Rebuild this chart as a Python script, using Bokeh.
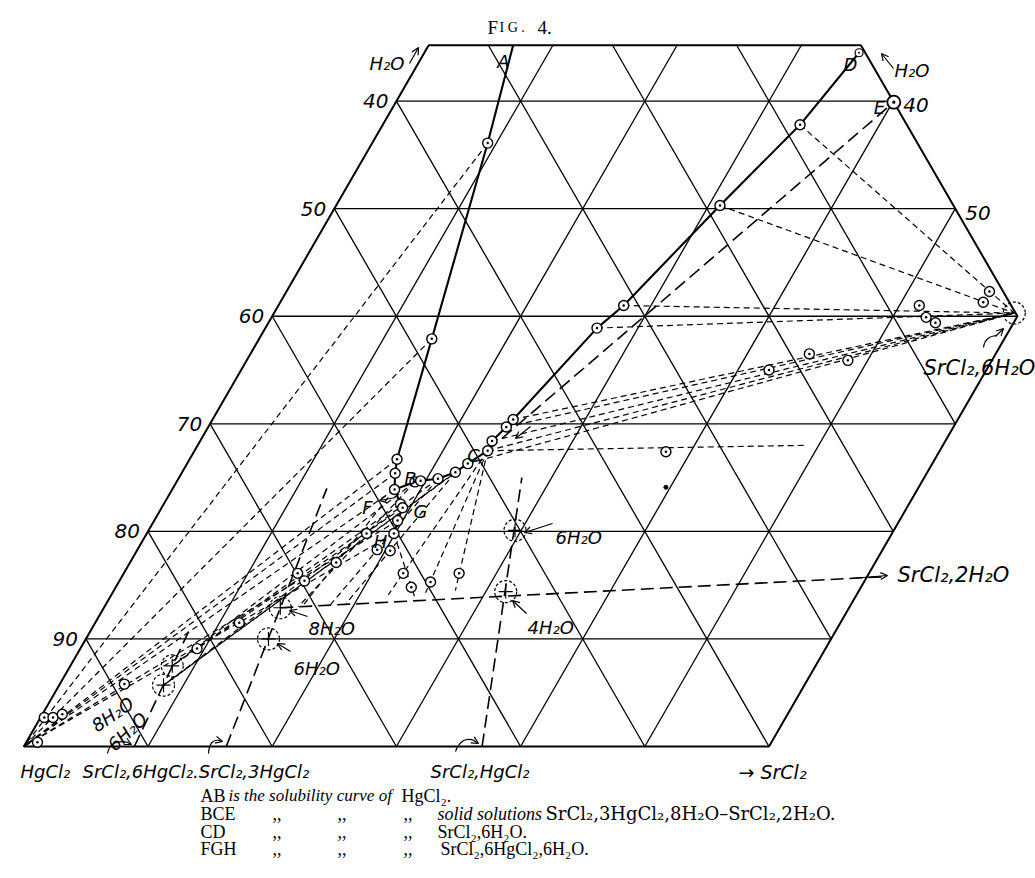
import numpy as np
from bokeh.plotting import figure
from bokeh.models import Range1d, Arrow, OpenHead
from bokeh.core.properties import value
from bokeh.embed import file_html
from bokeh.resources import INLINE

# ---------------- data (weight %: s = SrCl2, w = H2O) ----------------
W_TOP = 65.2          # upper limit of the drawn field (H2O %)
S_MAX = 60.0          # right limit of the drawn field (SrCl2 %)
GRID = [10, 20, 30, 40, 50, 60]
LEFT_TICKS = ["90", "80", "70", "60", "50", "40"]   # at H2O = 10 ... 60
RIGHT_TICKS = ["50", "40"]                            # at H2O = 50, 60

AB_s = [6.8, 9.3, 13.9, 16.7, 17.2, 17.9]
AB_w = [65.2, 56.1, 37.9, 26.7, 25.4, 23.9]
BC_s = [17.9, 19.2, 19.6, 20.9, 22.0, 22.6, 23.6]
BC_w = [23.9, 24.6, 24.7, 24.9, 25.5, 26.3, 27.5]
CD_s = [23.6, 23.5, 24.0, 24.2, 26.7, 27.8, 30.9, 33.6, 35.0]
CD_w = [27.5, 28.4, 29.7, 30.4, 38.9, 41.0, 50.3, 57.8, 64.5]
FGH_s = [17.9, 19.05, 19.4, 19.6, 19.9]
FGH_w = [23.9, 22.55, 22.2, 21.0, 19.8]
CE_s = [23.6, 40.1]
CE_w = [27.5, 59.9]

# residues ("Rest") points
RES_s = [56.6, 56.6, 51.6, 52.7, 53.7, 48.4, 45.0, 42.5, 38.0,
         17.7, 19.3, 20.4, 16.6, 14.0, 14.9, 22.5, 23.8, 25.1, 27.0,
         5.2, 9.4, 11.6, 0.3, 1.0, 1.6, 0.9]
RES_w = [42.3, 41.3, 41.0, 39.9, 39.4, 35.9, 36.5, 35.0, 27.4,
         19.8, 18.3, 18.2, 17.1, 16.1, 15.4, 16.1, 14.8, 15.3, 16.1,
         5.8, 9.1, 11.5, 2.7, 2.7, 3.0, 0.4]

# solid phases
SR6H = (59.6, 40.3)      # SrCl2,6H2O
P8 = (14.2, 12.9)        # SrCl2,3HgCl2,8H2O
P6 = (14.7, 10.0)        # SrCl2,3HgCl2,6H2O
Q8 = (8.2, 7.5)          # SrCl2,6HgCl2,8H2O
Q6 = (8.4, 5.7)          # SrCl2,6HgCl2,6H2O
R6 = (29.5, 20.1)        # SrCl2,HgCl2,6H2O
R4 = (31.6, 14.4)        # SrCl2,HgCl2,4H2O
SS_END = (61.6, 15.8)    # towards SrCl2,2H2O

# tie lines: solution -> solid
TIE_s0 = [9.3, 13.9, 16.7, 17.2, 17.9, 19.6, 19.9,
          19.05, 19.4, 19.2,
          22.6, 22.0, 20.9,
          17.9, 19.2, 20.9, 22.0, 23.6, 23.6, 23.6, 19.9,
          33.6, 30.9, 27.8, 26.7, 24.2, 24.0, 23.5, 23.6, 22.6,
          23.6]
TIE_w0 = [56.1, 37.9, 26.7, 25.4, 23.9, 21.0, 19.8,
          22.55, 22.2, 24.6,
          26.3, 25.5, 24.9,
          23.9, 24.6, 24.9, 25.5, 27.5, 27.5, 27.5, 19.8,
          57.8, 50.3, 41.0, 38.9, 30.4, 29.7, 28.4, 27.5, 26.3,
          27.5]
TIE_s1 = [0, 0, 0, 0, 0, 0, 0,
          8.2, 8.2, 8.2,
          8.4, 8.4, 8.4,
          15.9, 15.6, 18.1, 19.3, 22.3, 25.2, 27.5, 24.6,
          59.6, 59.6, 59.6, 59.6, 59.6, 59.6, 59.6, 59.6, 59.6,
          49.0]
TIE_w1 = [0, 0, 0, 0, 0, 0, 0,
          7.5, 7.5, 7.5,
          5.7, 5.7, 5.7,
          13.0, 13.0, 13.2, 13.3, 14.1, 14.3, 14.5, 13.8,
          40.3, 40.3, 40.3, 40.3, 40.3, 40.3, 40.3, 40.3, 40.3,
          28.0]

# lines from the anhydrous double salts towards H2O (through their hydrates)
HYD_s0 = [36.9, 16.3, 8.9]
HYD_w0 = [0.0, 0.0, 0.0]
HYD_s1 = [27.6, 12.4, 7.9]
HYD_w1 = [25.0, 24.0, 11.0]

# ---------------- geometry helpers ----------------
SQ = np.sqrt(3) / 2


def T(s, w):
    s = np.asarray(s, float)
    w = np.asarray(w, float)
    return s + w / 2, w * SQ


PXU = 12.42           # pixels per % unit
OX, OY = 23.3, 746.0  # page position of the HgCl2 corner
W, H = 1035, 870


def pg(px, py):
    """page pixel -> data coords (for placing annotations)"""
    return (px - OX) / PXU, (OY - py) / PXU


p = figure(width=W, height=H, output_backend="svg", toolbar_location=None,
           x_range=Range1d((0 - OX) / PXU, (W - OX) / PXU),
           y_range=Range1d((OY - H) / PXU, (OY - 0) / PXU),
           x_axis_type=None, y_axis_type=None, min_border=0)
p.grid.visible = False
p.outline_line_color = None
p.background_fill_color = "white"

# ---- grid ----
gx, gy = [], []
for c in GRID:
    x, y = T([0, min(S_MAX, 100 - c)], [c, c])
    gx.append(x); gy.append(y)
for c in GRID[:-1]:
    x, y = T([c, c], [0, min(W_TOP, 100 - c)])
    gx.append(x); gy.append(y)
for c in range(10, 100, 10):
    s0 = max(0.0, c - W_TOP)
    s1 = min(S_MAX, c)
    x, y = T([s0, s1], [c - s0, c - s1])
    gx.append(x); gy.append(y)
p.multi_line(gx, gy, line_color="black", line_width=1.3)

bs = [0, S_MAX, S_MAX, 100 - W_TOP, 0, 0]
bw = [0, 0, 100 - S_MAX, W_TOP, W_TOP, 0]
x, y = T(bs, bw)
p.line(x, y, line_color="black", line_width=2.0)

# ---- dashed tie lines ----
tx, ty = [], []
for a, b, c, d in zip(TIE_s0, TIE_w0, TIE_s1, TIE_w1):
    x, y = T([a, c], [b, d])
    tx.append(x); ty.append(y)
p.multi_line(tx, ty, line_color="black", line_width=1.2, line_dash="6 4")

# long dashed lines
lx, ly = [], []
for a, b, c, d in zip(HYD_s0, HYD_w0, HYD_s1, HYD_w1):
    x, y = T([a, c], [b, d])
    lx.append(x); ly.append(y)
x, y = T(CE_s, CE_w); lx.append(x); ly.append(y)
x, y = T([P8[0], SS_END[0]], [P8[1], SS_END[1]]); lx.append(x); ly.append(y)
p.multi_line(lx, ly, line_color="black", line_width=1.6, line_dash="13 6")

# ---- solubility curves ----
for cs, cw in [(AB_s, AB_w), (BC_s, BC_w), (CD_s, CD_w), (FGH_s, FGH_w)]:
    x, y = T(cs, cw)
    p.line(x, y, line_color="black", line_width=2.1)

# ---- points ----
sol_s = AB_s[1:] + BC_s[1:] + CD_s[1:-1] + FGH_s[1:]
sol_w = AB_w[1:] + BC_w[1:] + CD_w[1:-1] + FGH_w[1:]
x, y = T(sol_s + RES_s, sol_w + RES_w)
p.scatter(x, y, marker="circle_dot", size=10, line_color="black",
          line_width=1.4, fill_color="white")
x, y = T([CE_s[1]], [CE_w[1]])
p.scatter(x, y, marker="circle_dot", size=13, line_color="black",
          line_width=1.8, fill_color="white")
x, y = T([CD_s[-1]], [CD_w[-1]])
p.scatter(x, y, marker="circle_dot", size=8, line_color="black",
          line_width=1.2, fill_color="white")
x, y = T([39.65], [24.1])
p.scatter(x, y, marker="circle", size=4, color="black")

# solid-phase markers (dashed circles)
cs = [SR6H[0], P8[0], P6[0], Q8[0], Q6[0], R6[0], R4[0]]
cw = [SR6H[1], P8[1], P6[1], Q8[1], Q6[1], R6[1], R4[1]]
x, y = T(cs, cw)
p.scatter(x, y, marker="circle", size=22, line_color="black", line_width=1.2,
          line_dash="3 2", fill_color=None)
p.scatter(x[1:], y[1:], marker="cross", size=14, line_color="black", line_width=1.2)

# ---- texts ----
LBL = dict(text_font=value("DejaVu Sans"), text_font_style="italic",
           text_color="black")

# scale numbers
x, y = T([0] * 6, GRID)
p.text(x, y, text=LEFT_TICKS, text_align="right", text_baseline="alphabetic",
       x_offset=-8, text_font_size="20px", **LBL)
x, y = T([50, 40], [50, 60])
p.text(x, y, text=RIGHT_TICKS, text_align="left", text_baseline="alphabetic",
       x_offset=10, y_offset=4, text_font_size="20px", **LBL)


def label(px, py, txt, size="18px", align="left", baseline="alphabetic", angle=0.0):
    x, y = pg(px, py)
    p.text([x], [y], text=[txt], text_align=align, text_baseline=baseline,
           text_font_size=size, angle=angle, **LBL)


label(404, 63, "H\u2082O", align="right")
label(503, 61, "A", align="center")
label(850, 64, "D", align="center")
label(894, 70, "H\u2082O")
label(879, 107, "E", align="center")
label(410, 478, "B", align="center")
label(473, 455, "C", align="center")
label(367, 507, "F", align="center")
label(420, 511, "G", align="center")
label(380, 541, "H", align="center")
label(555, 537, "6H\u2082O")
label(527, 627, "4H\u2082O")
label(897, 574, "SrCl\u2082,2H\u2082O", size="21px")
label(923, 367, "SrCl\u2082,6H\u2082O", size="21px")
label(308, 628, "8H\u2082O")
label(293, 668, "6H\u2082O")
label(93, 727, "8H\u2082O", angle=0.6)
label(110, 747, "6H\u2082O", angle=0.75)
label(20, 771, "HgCl\u2082")
label(82, 771, "SrCl\u2082,6HgCl\u2082.SrCl\u2082,3HgCl\u2082")
label(430, 771, "SrCl\u2082,HgCl\u2082")
label(738, 771, "\u2192 SrCl\u2082", size="19px")

# annotation arrows
ARW = [((409, 63), (418, 47)), ((893, 68), (881, 53)), ((552, 523), (524, 532)),
       ((526, 613), (512, 600)), ((307, 616), (289, 610)), ((290, 651), (277, 643)),
       ((995, 336), (1003, 328)), ((850, 578), (887, 575)), ((530, 426), (515, 438)),
       ((395, 497), (379, 500)), ((127, 742), (131, 744)), ((218, 740), (222, 741)),
       ((473, 740), (478, 743))]
for (a, b) in ARW:
    x0, y0 = pg(*a)
    x1, y1 = pg(*b)
    p.add_layout(Arrow(end=OpenHead(size=7, line_width=1.2), x_start=x0, y_start=y0,
                       x_end=x1, y_end=y1, line_width=1.2))

# curved arrow shafts
CURV = [((983, 347), (984, 336), (996, 335)), ((107, 753), (110, 738), (128, 742)),
        ((208, 753), (209, 738), (219, 740)), ((455, 751), (461, 735), (474, 740))]
qx0, qy0, qcx, qcy, qx1, qy1 = [], [], [], [], [], []
for a, c, b in CURV:
    u = pg(*a); v = pg(*c); t = pg(*b)
    qx0.append(u[0]); qy0.append(u[1]); qcx.append(v[0]); qcy.append(v[1])
    qx1.append(t[0]); qy1.append(t[1])
p.quadratic(x0=qx0, y0=qy0, cx=qcx, cy=qcy, x1=qx1, y1=qy1,
            line_color="black", line_width=1.2)

# title
TT = dict(text_font=value("Liberation Serif"), text_color="black",
          text_baseline="alphabetic")
x, y = pg(487, 27)
p.text([x], [y], text=["F"], text_font_size="19px", **TT)
x, y = pg(499, 27)
p.text([x], [y], text=["I G ."], text_font_size="14px", **TT)
x, y = pg(537, 27)
p.text([x], [y], text=["4."], text_font_size="19px", **TT)

# caption
CAP = dict(text_font=value("Liberation Serif"), text_color="black",
           text_baseline="alphabetic", text_font_size="18px")
rows = [795, 813, 831, 848]
heads = ["AB", "BCE", "CD", "FGH"]
for r, hname in zip(rows, heads):
    x, y = pg(200, r)
    p.text([x], [y], text=[hname], **CAP)
for r in rows[1:]:
    for cx in [272, 337, 403]:
        x, y = pg(cx, r)
        p.text([x], [y], text=[",,"], **CAP)
CAPI = dict(CAP)
CAPI["text_font_size"] = "17px"
x, y = pg(228, rows[0])
p.text([x], [y], text=["is the solubility curve of"], text_font_style="italic", **CAPI)
x, y = pg(401, rows[0])
p.text([x], [y], text=["HgCl\u2082."], **CAP)
x, y = pg(437, rows[1])
p.text([x], [y], text=["solid solutions"], text_font_style="italic", **CAP)
CAP2 = dict(CAP)
CAP2["text_font"] = value("DejaVu Serif")
x, y = pg(545, rows[1])
p.text([x], [y], text=["SrCl\u2082,3HgCl\u2082,8H\u2082O\u2013SrCl\u2082,2H\u2082O."], **CAP2)
x, y = pg(437, rows[2])
p.text([x], [y], text=["SrCl\u2082,6H\u2082O."], **CAP)
x, y = pg(440, rows[3])
p.text([x], [y], text=["SrCl\u2082,6HgCl\u2082,6H\u2082O."], **CAP)

open("out.html", "w").write(file_html(p, INLINE))
